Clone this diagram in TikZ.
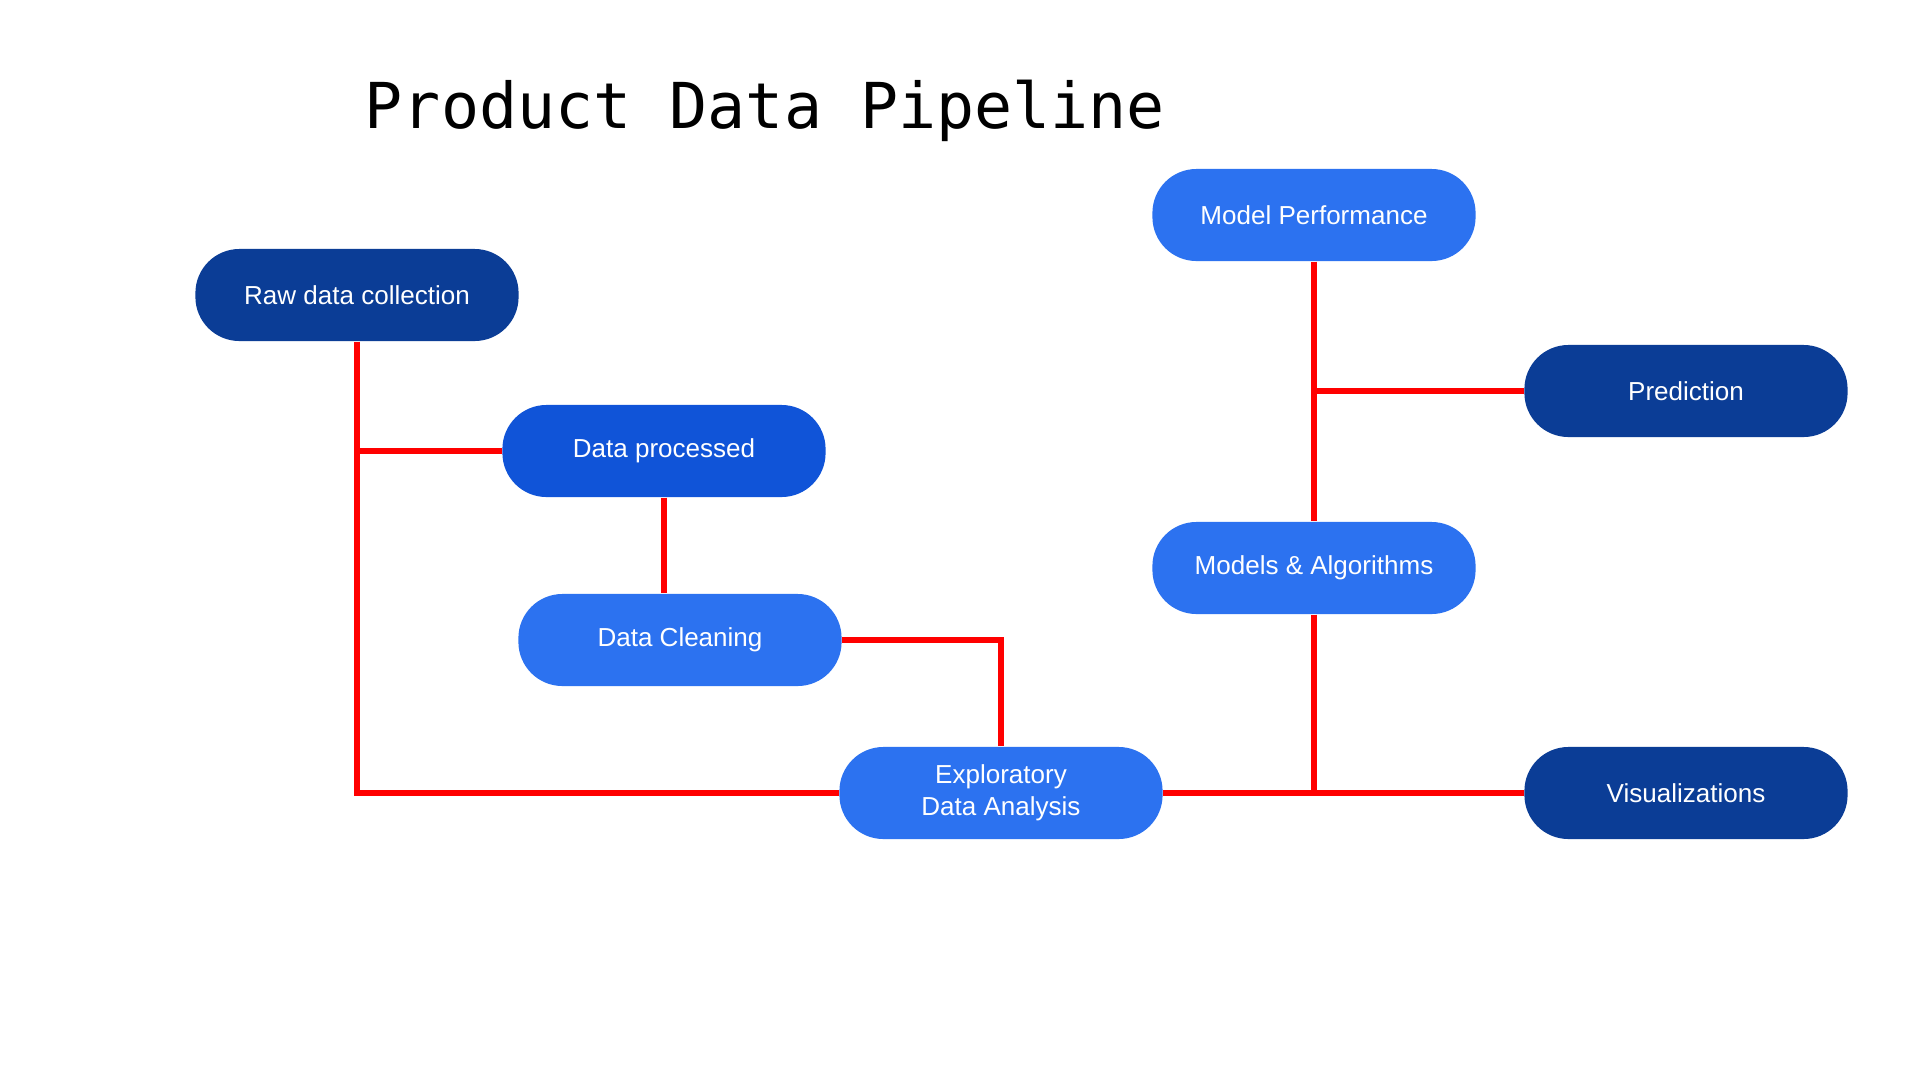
\documentclass[tikz,border=0pt]{standalone}
\usepackage{fontspec}
\setmainfont{Liberation Sans}
\newfontfamily\titlefont{DejaVu Sans Mono}
\usepackage{tikz}
\usetikzlibrary{calc}

\definecolor{navy}{HTML}{0B3D96}
\definecolor{midblue}{HTML}{1054D8}
\definecolor{lightblue}{HTML}{2C72F0}

\begin{document}
\begin{tikzpicture}[x=0.01cm,y=-0.01cm,
  box/.style={rounded corners=0.44cm,minimum width=3.23cm,minimum height=0.92cm,
    text=white,align=center,font=\fontsize{7.4}{9}\selectfont,inner sep=0pt},
  link/.style={red,line width=1.5pt}]

\useasboundingbox[fill=white] (0,0) rectangle (1917,1075);

\node[anchor=base,font=\titlefont\fontsize{18}{20}\selectfont] (title) at (765,128) {Product Data Pipeline};

\node[box,fill=navy] (raw) at (357,295) {Raw data collection};
\node[box,fill=midblue] (proc) at (664,451) {Data processed};
\node[box,fill=lightblue] (clean) at (680,640) {Data Cleaning};
\node[box,fill=lightblue] (eda) at (1001,793) {Exploratory\\Data Analysis};
\node[box,fill=lightblue] (perf) at (1314,215) {Model Performance};
\node[box,fill=navy] (pred) at (1686,391) {Prediction};
\node[box,fill=lightblue] (algo) at (1314,568) {Models \& Algorithms};
\node[box,fill=navy] (vis) at (1686,793) {Visualizations};

\draw[link] (raw.south) |- (eda.west);
\draw[link] (raw.south |- proc.west) -- (proc.west);
\draw[link] (proc.south) -- (proc.south |- clean.north);
\draw[link] (clean.east) -| (eda.north);
\draw[link] (eda.east) -- (vis.west);
\draw[link] (algo.south) -- (algo.south |- eda.east);
\draw[link] (perf.south) -- (algo.north);
\draw[link] (perf.south |- pred.west) -- (pred.west);

\end{tikzpicture}
\end{document}
